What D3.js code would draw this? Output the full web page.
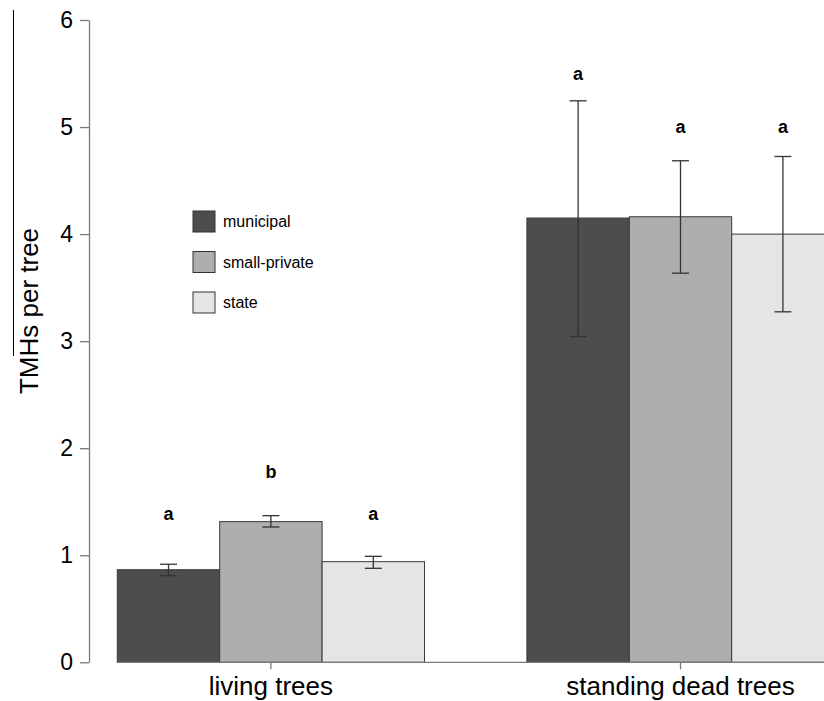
<!DOCTYPE html>
<html>
  <head>
    <title>TMHs per tree</title>
    <meta charset="utf-8">
    <style>
        body {
            margin: 0;
            background: white;
        }
        svg text {
            font-family: "Liberation Sans", Arial, sans-serif;
            fill: black;
        }
        .bar {
            stroke: #3a3a3a;
            stroke-width: 1px;
        }
        .err line {
            stroke: #333;
            stroke-width: 1.3px;
        }
        .axis-line {
            stroke: #7a7a7a;
            stroke-width: 1.3px;
            fill: none;
        }
    </style>
  </head>
  <body>
    <div id="chart"></div>
    <script src="https://d3js.org/d3.v7.min.js"></script>
    <script>
        // values
        var groups = ["living trees", "standing dead trees"];
        var series = ["municipal", "small-private", "state"];
        var means = [[0.865, 1.314, 0.94], [4.15, 4.162, 4.0]];
        var lower = [[0.81, 1.264, 0.878], [3.043, 3.635, 3.274]];
        var upper = [[0.916, 1.37, 0.99], [5.245, 4.685, 4.725]];
        var letters = [["a", "b", "a"], ["a", "a", "a"]];
        var letterY = [[1.39, 1.78, 1.39], [5.5, 5.0, 5.0]];
        var yTicks = [0, 1, 2, 3, 4, 5, 6];
        var colors = ["#4d4d4d", "#aeaeae", "#e5e5e5"];

        var width = 824, height = 701;

        var svg = d3.select("#chart")
          .append("svg")
            .attr("width", width)
            .attr("height", height);

        var y = d3.scaleLinear()
          .domain([0, 6])
          .range([662.3, 20]);

        // groups are 3 bars wide with one bar of space between them
        var x0 = d3.scaleBand()
          .domain(groups)
          .range([117.3, 834.1])
          .paddingInner(0.25)
          .paddingOuter(0);

        var x1 = d3.scaleBand()
          .domain(series)
          .range([0, x0.bandwidth()]);

        var rows = [];
        groups.forEach(function (g, gi) {
          series.forEach(function (s, si) {
            rows.push({
              group: g, series: s, si: si,
              mean: means[gi][si], lo: lower[gi][si], hi: upper[gi][si],
              letter: letters[gi][si], ly: letterY[gi][si]
            });
          });
        });

        // bars
        svg.append("g")
          .selectAll("rect")
          .data(rows)
          .enter()
          .append("rect")
            .attr("class", "bar")
            .attr("x", function (d) { return x0(d.group) + x1(d.series); })
            .attr("y", function (d) { return y(d.mean); })
            .attr("width", x1.bandwidth())
            .attr("height", function (d) { return y(0) - y(d.mean); })
            .style("fill", function (d) { return colors[d.si]; });

        // error bars
        var cap = 8.5;
        var err = svg.append("g")
          .selectAll("g")
          .data(rows)
          .enter()
          .append("g")
            .attr("class", "err")
            .attr("transform", function (d) {
              return "translate(" + (x0(d.group) + x1(d.series) + x1.bandwidth() / 2) + ",0)";
            });
        err.append("line")
          .attr("x1", 0).attr("x2", 0)
          .attr("y1", function (d) { return y(d.lo); })
          .attr("y2", function (d) { return y(d.hi); });
        err.append("line")
          .attr("x1", -cap).attr("x2", cap)
          .attr("y1", function (d) { return y(d.hi); })
          .attr("y2", function (d) { return y(d.hi); });
        err.append("line")
          .attr("x1", -cap).attr("x2", cap)
          .attr("y1", function (d) { return y(d.lo); })
          .attr("y2", function (d) { return y(d.lo); });

        // significance letters
        svg.append("g")
          .selectAll("text")
          .data(rows)
          .enter()
          .append("text")
            .attr("x", function (d) { return x0(d.group) + x1(d.series) + x1.bandwidth() / 2; })
            .attr("y", function (d) { return y(d.ly); })
            .attr("dy", "0.35em")
            .attr("text-anchor", "middle")
            .style("font-size", "18px")
            .style("font-weight", "bold")
            .text(function (d) { return d.letter; });

        // y axis
        var yAxis = svg.append("g")
          .attr("transform", "translate(89,0)")
          .call(d3.axisLeft(y).tickValues(yTicks).tickFormat(d3.format("d"))
            .tickSize(9).tickPadding(7).tickSizeOuter(0));
        yAxis.select(".domain").attr("class", "axis-line");
        yAxis.selectAll(".tick line").attr("class", "axis-line");
        yAxis.selectAll(".tick text")
          .style("font-size", "23px")
          .style("font-family", "'Liberation Sans', Arial, sans-serif")
          .attr("fill", "black");

        // x baseline and axis
        svg.append("line")
          .attr("class", "axis-line")
          .attr("x1", x0.range()[0])
          .attr("x2", width)
          .attr("y1", y(0))
          .attr("y2", y(0));

        svg.append("g")
          .selectAll("line")
          .data(groups)
          .enter()
          .append("line")
            .attr("class", "axis-line")
            .attr("x1", function (d) { return x0(d) + x0.bandwidth() / 2; })
            .attr("x2", function (d) { return x0(d) + x0.bandwidth() / 2; })
            .attr("y1", y(0))
            .attr("y2", y(0) + 7);

        svg.append("g")
          .selectAll("text")
          .data(groups)
          .enter()
          .append("text")
            .attr("x", function (d) { return x0(d) + x0.bandwidth() / 2; })
            .attr("y", 695)
            .attr("text-anchor", "middle")
            .style("font-size", "26px")
            .text(function (d) { return d; });

        // y title
        svg.append("text")
          .attr("transform", "translate(37.5,311) rotate(-90)")
          .attr("text-anchor", "middle")
          .style("font-size", "26px")
          .text("TMHs per tree");

        // stray line at the left edge of the picture
        svg.append("line")
          .attr("x1", 13.5).attr("x2", 13.5)
          .attr("y1", 10).attr("y2", 356)
          .style("stroke", "black")
          .style("stroke-width", 1);

        // legend
        var legend = svg.append("g")
          .selectAll("g")
          .data(series)
          .enter()
          .append("g")
            .attr("transform", function (d, i) { return "translate(193," + (211 + i * 40.5) + ")"; });
        legend.append("rect")
          .attr("width", 22)
          .attr("height", 21)
          .style("fill", function (d, i) { return colors[i]; })
          .style("stroke", "#333")
          .style("stroke-width", 1);
        legend.append("text")
          .attr("x", 30)
          .attr("y", 10.5)
          .attr("dy", "0.35em")
          .style("font-size", "16px")
          .text(function (d) { return d; });
    </script>
  </body>
</html>
